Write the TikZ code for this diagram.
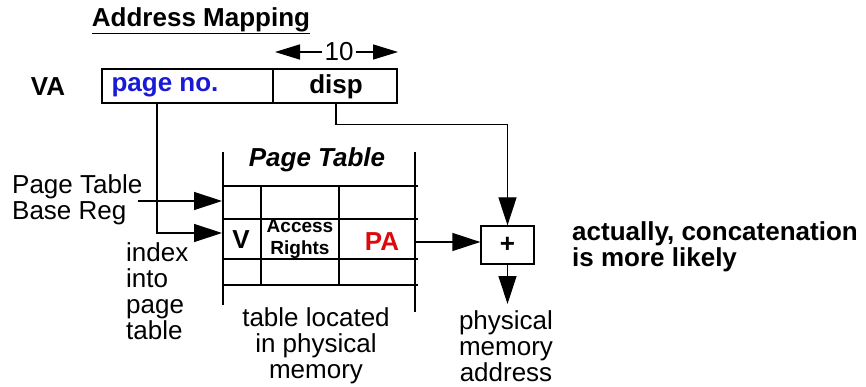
\documentclass[tikz,border=0pt]{standalone}
\usepackage{fontspec}
\setmainfont{Liberation Sans}
\usetikzlibrary{arrows.meta}
\definecolor{pnblue}{RGB}{25,25,215}
\definecolor{pared}{RGB}{220,10,10}
\tikzset{
  x=1pt, y=-1pt,
  lbl/.style={inner sep=0pt, font=\fontsize{26}{26}\selectfont},
  blbl/.style={inner sep=0pt, font=\fontsize{26}{26}\selectfont\bfseries},
  small/.style={inner sep=0pt, font=\fontsize{19}{22}\selectfont\bfseries},
  wire/.style={line width=1.3pt},
  arr/.style={line width=1.3pt, -{Triangle[length=28pt,width=18pt]}},
  sarr/.style={line width=1.6pt, -{Triangle[length=25pt,width=15pt]}},
  cell/.style={draw, line width=1.3pt, inner sep=0pt},
}
\begin{document}
\begin{tikzpicture}
\useasboundingbox (0,0) rectangle (866,387);
% title
\node[blbl] (title) at (201,21) {\underline{Address Mapping}};
% 10 with arrows
\node[lbl] (ten) at (339,52) {10};
\coordinate (tenl) at (275,52);
\coordinate (tenr) at (398,52);
\draw[sarr] (ten.west) ++(-2,0) -- (tenl);
\draw[sarr] (ten.east) ++(2,0) -- (tenr);
% VA
\node[blbl] (va) at (48,87) {VA};
\node[cell, minimum width=171pt, minimum height=34pt] (pn) at (187.5,86) {};
\node[cell, minimum width=124pt, minimum height=34pt] (disp) at (335,86) {};
\node[blbl, text=pnblue] (pntext) at (165,87) {page no.};
\node[blbl] (disptext) at (336,87) {disp};
% page table
\node[inner sep=0pt, font=\fontsize{26}{26}\selectfont\bfseries\itshape] (pttitle) at (317,160) {Page Table};
\draw[wire] (223,152) -- (223,305);
\draw[wire] (415,152) -- (415,312);
\foreach \yy in {186,219,259,285} \draw[wire] (223,\yy) -- (418,\yy);
\draw[wire] (261,186) -- (261,285);
\draw[wire] (339,186) -- (339,285);
\node[blbl] (v) at (241,240) {V};
\node[small, align=center] (ar) at (300,239) {Access\\Rights};
\node[blbl, text=pared] (pa) at (382,242) {PA};
\coordinate (ptbrin) at (222,201);
\coordinate (idxin) at (222,233);
\coordinate (paout) at (415,242);
% left labels
\node[lbl, align=left, anchor=west] (ptbr) at (12,200) {Page Table\\Base Reg};
\coordinate (ptbrout) at (138,201);
\node[lbl, align=left, anchor=west] (idx) at (126,291) {index\\into\\page\\table};
\node[lbl, align=center] (loc) at (316,346) {table located\\in physical\\memory};
% adder
\node[cell, minimum width=53pt, minimum height=38pt, font=\fontsize{26}{26}\selectfont\bfseries] (plus) at (507.5,245) {+};
\coordinate (pmout) at (507.5,304);
\node[lbl, align=center] (pm) at (506,346) {physical\\memory\\address};
\node[blbl, align=left, anchor=west] (note) at (572,247) {actually, concatenation\\is more likely};
% connectors
\coordinate (pntap) at (157,103);
\draw[arr] (pntap) |- (idxin);
\draw[arr] (ptbrout) -- (ptbrin);
\draw[arr] (disp.south) ++(1,0) -- ++(0,21) -| (plus.north);
\draw[arr] (paout) -- (paout -| plus.west);
\draw[arr] (plus.south) -- (pmout);
\end{tikzpicture}
\end{document}
